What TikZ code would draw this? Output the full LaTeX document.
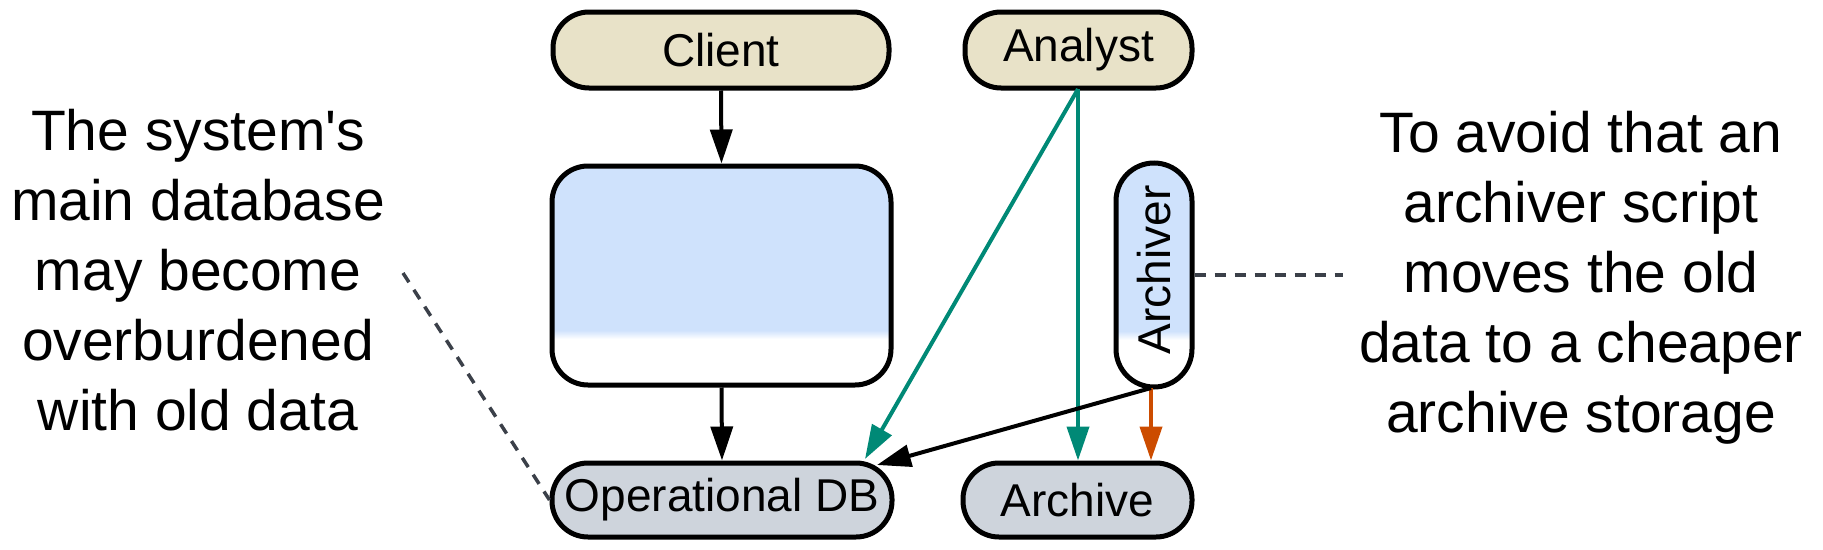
\documentclass[tikz,border=0pt]{standalone}
\usepackage{fontspec}
\setmainfont{Liberation Sans}[Ligatures=TeXOff]
\usetikzlibrary{arrows.meta}
\definecolor{lblue}{RGB}{207,226,252}
\definecolor{beige}{RGB}{232,226,200}
\definecolor{dbgray}{RGB}{206,212,220}
\definecolor{teal}{RGB}{0,137,118}
\definecolor{orng}{RGB}{204,76,0}
\definecolor{dashc}{RGB}{59,64,73}
\pgfdeclareverticalshading{boxshade}{100bp}{color(0bp)=(white); color(35.5bp)=(white); color(37.5bp)=(lblue); color(100bp)=(lblue)}
\tikzset{
  nodefont/.style={font=\fontsize{46}{55}\selectfont},
  pill/.style={draw=black, line width=5pt, rounded corners=36pt, minimum height=76pt, inner sep=0pt, nodefont},
  topnode/.style={pill, fill=beige},
  botnode/.style={pill, fill=dbgray},
  bigbox/.style={draw=black, line width=5pt, rounded corners=36pt, shading=boxshade, inner sep=0pt},
  arr/.style={line width=4pt, -{Triangle[length=34pt,width=22pt]}},
  note/.style={dashc, line width=3.5pt, dash pattern=on 11pt off 9pt},
  bigtext/.style={align=center, font=\fontsize{57}{70}\selectfont, inner sep=0pt}
}
\begin{document}
\begin{tikzpicture}[x=1pt,y=-1pt]
\useasboundingbox (0,0) rectangle (1823,549);
\node[topnode, minimum width=336pt] (client) at (721,50) {Client};
\node[topnode, minimum width=227pt] (analyst) at (1078.5,50) {Analyst};
\node[bigbox, minimum width=339pt, minimum height=219pt] (box) at (721.5,275.5) {};
\node[botnode, minimum width=340pt, minimum height=74pt] (opdb) at (722,500) {Operational DB};
\node[botnode, minimum width=229pt, minimum height=74pt] (archive) at (1077.5,500) {Archive};
\node[bigbox, rounded corners=38pt, minimum width=76pt, minimum height=224pt] (archiver) at (1154,275) {};
\node[nodefont, rotate=90, inner sep=0pt] (archtxt) at (1154,270) {Archiver};

\coordinate (g1) at (865,459);
\coordinate (b1) at (877,465);
\coordinate (astart) at (1078,89);
\coordinate (arstart) at (1151,388);
\draw[arr] (client.south) -- (box.north);
\draw[arr] (box.south) -- (opdb.north);
\draw[arr, teal] (astart) -- (g1);
\draw[arr, teal] (astart) -- (astart |- archive.north);
\draw[arr, orng] (arstart) -- (arstart |- archive.north);
\draw[arr] (arstart) -- (b1);

\node[bigtext] (ltext) at (198,270) {The system's\\main database\\may become\\overburdened\\with old data};
\node[bigtext] (rtext) at (1581,278) {To avoid that an\\archiver script\\moves the old\\data to a cheaper\\archive storage};

\coordinate (lend) at (403,273);
\coordinate (rend) at (1343,275);
\draw[note] (lend) -- (opdb.west);
\draw[note] (archiver.east) -- (rend);
\end{tikzpicture}
\end{document}
